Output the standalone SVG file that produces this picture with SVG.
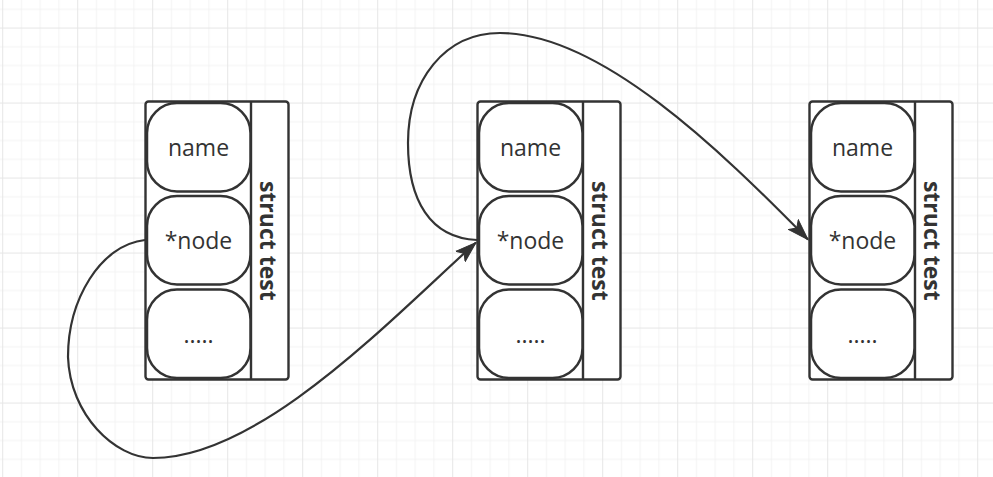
<svg xmlns="http://www.w3.org/2000/svg" width="993" height="477" viewBox="0 0 993 477">
  <style>
    .outer { fill: #ffffff; stroke: #333333; stroke-width: 2.4; }
    .cell { fill: #ffffff; stroke: #333333; stroke-width: 2.5; }
    .div { stroke: #333333; stroke-width: 2.4; }
    .lbl { font-family: "Open Sans", "DejaVu Sans", sans-serif; font-size: 23px; fill: #333333; text-anchor: middle; dominant-baseline: central; }
    .title { font-family: "Open Sans", "DejaVu Sans", sans-serif; font-size: 23px; font-weight: bold; fill: #333333; text-anchor: middle; dominant-baseline: central; }
    .edge { fill: none; stroke: #333333; stroke-width: 2.2; }
  </style>
  <defs>
    <pattern id="grid" patternUnits="userSpaceOnUse" x="2.2" y="27.55" width="75" height="75">
      <rect x="0" y="0" width="75" height="75" fill="#ffffff"/>
      <rect x="18.75" y="0" width="1" height="75" fill="#f3f3f3"/>
      <rect x="37.5" y="0" width="1" height="75" fill="#f3f3f3"/>
      <rect x="56.25" y="0" width="1" height="75" fill="#f3f3f3"/>
      <rect x="0" y="18.75" width="75" height="1" fill="#f3f3f3"/>
      <rect x="0" y="37.5" width="75" height="1" fill="#f3f3f3"/>
      <rect x="0" y="56.25" width="75" height="1" fill="#f3f3f3"/>
      <rect x="0" y="0" width="1" height="75" fill="#e6e6e6"/>
      <rect x="0" y="0" width="75" height="1" fill="#e6e6e6"/>
    </pattern>
    <marker id="arrow" markerUnits="userSpaceOnUse" markerWidth="24" markerHeight="18" refX="21" refY="8" orient="auto" viewBox="0 0 24 16">
      <path d="M0,1 L21,8 L0,15 L5,8 Z" fill="#333333" stroke="#333333" stroke-width="1" stroke-linejoin="miter"/>
    </marker>
  </defs>

  <rect x="0" y="0" width="993" height="477" fill="url(#grid)"/>

  <g id="struct1">
    <rect class="outer" x="145.5" y="101.5" width="143" height="278" rx="3" ry="3"/>
    <line class="div" x1="251" y1="101.5" x2="251" y2="379.5"/>
    <g id="struct1-name">
      <rect class="cell" x="147" y="103" width="103.5" height="88.5" rx="30" ry="30"/>
      <text class="lbl" x="198.5" y="147.25">name</text>
    </g>
    <g id="struct1-node">
      <rect class="cell" x="147" y="196" width="103.5" height="88.5" rx="30" ry="30"/>
      <text class="lbl" x="198.5" y="240.25">*node</text>
    </g>
    <g id="struct1-more">
      <rect class="cell" x="147" y="289.5" width="103.5" height="88.5" rx="30" ry="30"/>
      <text class="lbl" x="198.5" y="333.75">.....</text>
    </g>
    <text class="title" x="269" y="240.8" transform="rotate(90 269 240.8)">struct test</text>
  </g>

  <g id="struct2">
    <rect class="outer" x="477.5" y="101.5" width="143" height="278" rx="3" ry="3"/>
    <line class="div" x1="583" y1="101.5" x2="583" y2="379.5"/>
    <g id="struct2-name">
      <rect class="cell" x="479" y="103" width="103.5" height="88.5" rx="30" ry="30"/>
      <text class="lbl" x="530.5" y="147.25">name</text>
    </g>
    <g id="struct2-node">
      <rect class="cell" x="479" y="196" width="103.5" height="88.5" rx="30" ry="30"/>
      <text class="lbl" x="530.5" y="240.25">*node</text>
    </g>
    <g id="struct2-more">
      <rect class="cell" x="479" y="289.5" width="103.5" height="88.5" rx="30" ry="30"/>
      <text class="lbl" x="530.5" y="333.75">.....</text>
    </g>
    <text class="title" x="601" y="240.8" transform="rotate(90 601 240.8)">struct test</text>
  </g>

  <g id="struct3">
    <rect class="outer" x="809.5" y="101.5" width="143" height="278" rx="3" ry="3"/>
    <line class="div" x1="915" y1="101.5" x2="915" y2="379.5"/>
    <g id="struct3-name">
      <rect class="cell" x="811" y="103" width="103.5" height="88.5" rx="30" ry="30"/>
      <text class="lbl" x="862.5" y="147.25">name</text>
    </g>
    <g id="struct3-node">
      <rect class="cell" x="811" y="196" width="103.5" height="88.5" rx="30" ry="30"/>
      <text class="lbl" x="862.5" y="240.25">*node</text>
    </g>
    <g id="struct3-more">
      <rect class="cell" x="811" y="289.5" width="103.5" height="88.5" rx="30" ry="30"/>
      <text class="lbl" x="862.5" y="333.75">.....</text>
    </g>
    <text class="title" x="933" y="240.8" transform="rotate(90 933 240.8)">struct test</text>
  </g>

  <g id="connectors">
    <path id="edge1" class="edge" marker-end="url(#arrow)" d="M145,240 C100,245 68,300 68,357 C70,415 115,458 153,458 C260,458 390,320 476,242.5"/>
    <path id="edge2" class="edge" marker-end="url(#arrow)" d="M477,240 C430,238 408,200 408,143 C408,80 445,33 500,33 C600,33 720,150 808,239.5"/>
  </g>
</svg>
